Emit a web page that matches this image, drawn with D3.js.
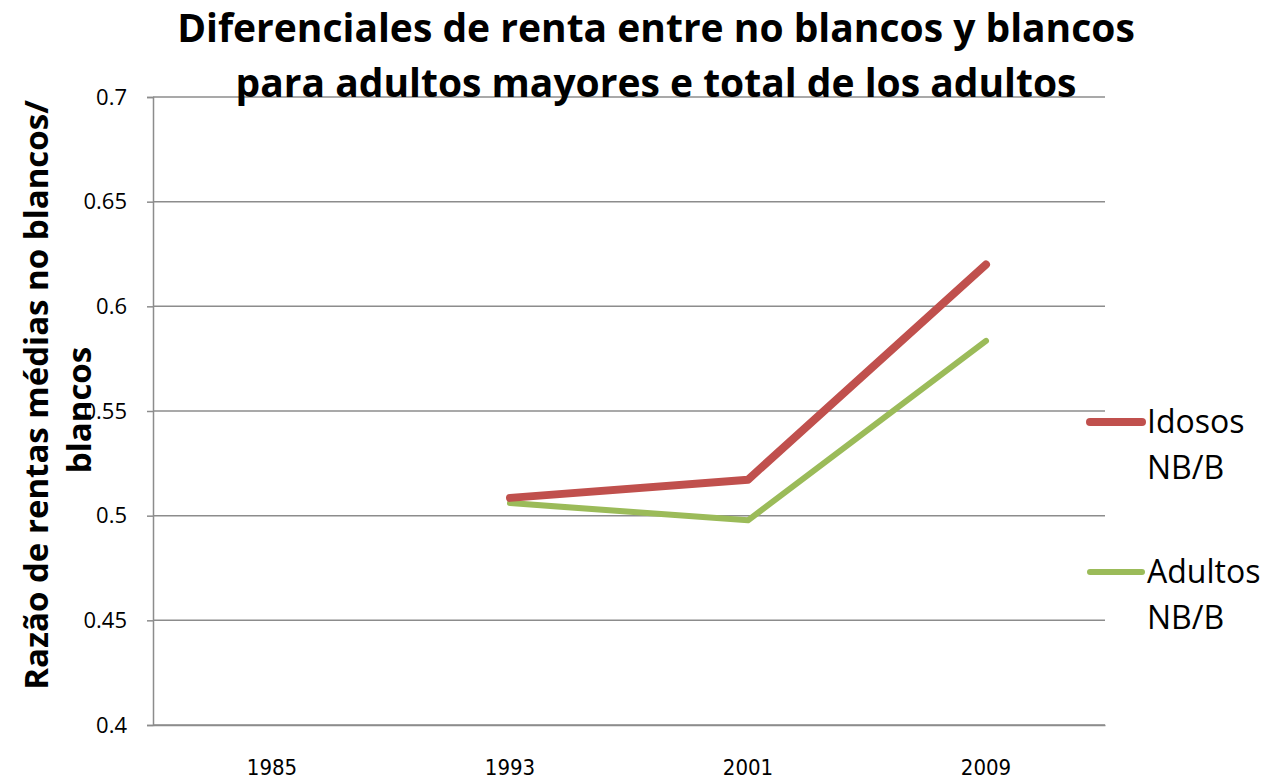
<!DOCTYPE html>
<html>
<head>
<meta charset="utf-8">
<script src="https://cdn.jsdelivr.net/npm/d3@7"></script>
<style>
  body { margin: 0; background: #fff; }
  svg text { font-family: "Open Sans", "Noto Sans", sans-serif; fill: #000; }
</style>
</head>
<body>
<div id="chart-container"></div>
<script>
'use strict'

var years = ['1985', '1993', '2001', '2009']
var idosos = [null, 0.5085, 0.5172, 0.6200]
var adultos = [null, 0.5060, 0.4978, 0.5835]
var yTicks = [0.4, 0.45, 0.5, 0.55, 0.6, 0.65, 0.7]
var seriesNames = [['Idosos', 'NB/B'], ['Adultos', 'NB/B']]
var seriesColors = ['#C0504D', '#9BBB59']

let margins = { top: 97, bottom: 55, left: 153, right: 163 }
let width = 1268 - margins.left - margins.right
let height = 780 - margins.top - margins.bottom

var svg = d3.select('#chart-container')
    .append('svg')
        .attr('width', 1268)
        .attr('height', 780)

var chart = svg.append('g')
    .attr('transform', 'translate(' + margins.left + ',' + margins.top + ')')

let x = d3.scaleBand()
    .range([0, width])
    .domain(years)

let y = d3.scaleLinear()
    .range([height, 0])
    .domain([0.4, 0.7])

// gridlines
chart.selectAll('.grid').data(yTicks)
    .enter().append('line')
    .attr('x1', 0)
    .attr('x2', width)
    .attr('y1', d => y(d))
    .attr('y2', d => y(d))
    .style('stroke', '#8c8c8c')
    .style('stroke-width', 1.5)

// y axis
let yAxis = d3.axisLeft(y).tickValues(yTicks).tickSize(6)
    .tickFormat(d => String(+d.toFixed(2)))
let yg = chart.append('g').call(yAxis)
yg.select('.domain').style('stroke', '#8c8c8c').style('stroke-width', 1.5)
yg.selectAll('.tick line').style('stroke', '#8c8c8c').style('stroke-width', 1.5)
yg.selectAll('.tick text')
    .style('font-size', '22px')
    .attr('x', -26)
    .style('text-anchor', 'end')

// x axis
let xAxis = d3.axisBottom(x).tickSize(0)
let xg = chart.append('g')
    .attr('transform', 'translate(0,' + height + ')')
    .call(xAxis)
xg.select('.domain').style('stroke', '#8c8c8c').style('stroke-width', 1.5)
xg.selectAll('.tick text')
    .attr('y', 50)
    .attr('dy', 0)
    .style('font-size', '22px')
    .style('font-family', '"Liberation Sans Narrow", "DejaVu Sans Condensed", "Open Sans", sans-serif')

// lines
var line = d3.line()
    .defined(d => d != null)
    .x((d, i) => x(years[i]) + x.bandwidth() / 2)
    .y(d => y(d))

chart.append('path').datum(adultos)
    .attr('d', line)
    .style('fill', 'none')
    .style('stroke', seriesColors[1])
    .style('stroke-width', 6)
    .style('stroke-linecap', 'round')
    .style('stroke-linejoin', 'round')

chart.append('path').datum(idosos)
    .attr('d', line)
    .style('fill', 'none')
    .style('stroke', seriesColors[0])
    .style('stroke-width', 8)
    .style('stroke-linecap', 'round')
    .style('stroke-linejoin', 'round')

// title
var title = svg.append('text')
    .attr('x', 656)
    .attr('y', 42)
    .style('text-anchor', 'middle')
    .style('font-size', '39px')
    .style('font-weight', 'bold')
title.append('tspan').attr('x', 656).text('Diferenciales de renta entre no blancos y blancos')
title.append('tspan').attr('x', 656).attr('dy', 55).text('para adultos mayores e total de los adultos')

// y axis title
var yTitle = svg.append('text')
    .attr('transform', 'translate(48,395) rotate(-90)')
    .style('text-anchor', 'middle')
    .style('font-size', '33px')
    .style('font-weight', 'bold')
yTitle.append('tspan').attr('x', 0).text('Razão de rentas médias no blancos/')
yTitle.append('tspan').attr('x', -15).attr('dy', 43).text('blancos')

// legend
var legendY = [422, 572]
var legend = svg.selectAll('.legend').data(seriesNames)
    .enter().append('g')
    .attr('transform', (d, i) => 'translate(1090,' + legendY[i] + ')')

legend.append('line')
    .attr('x1', 0).attr('x2', 52)
    .attr('y1', 0).attr('y2', 0)
    .style('stroke', (d, i) => seriesColors[i])
    .style('stroke-width', (d, i) => i == 0 ? 8 : 6)
    .style('stroke-linecap', 'round')

legend.append('text')
    .attr('x', 57)
    .attr('y', 11)
    .style('font-size', '32px')
    .selectAll('tspan').data(d => d)
    .enter().append('tspan')
        .attr('x', 57)
        .attr('dy', (d, i) => i == 0 ? 0 : 46)
        .text(d => d)
</script>
</body>
</html>
